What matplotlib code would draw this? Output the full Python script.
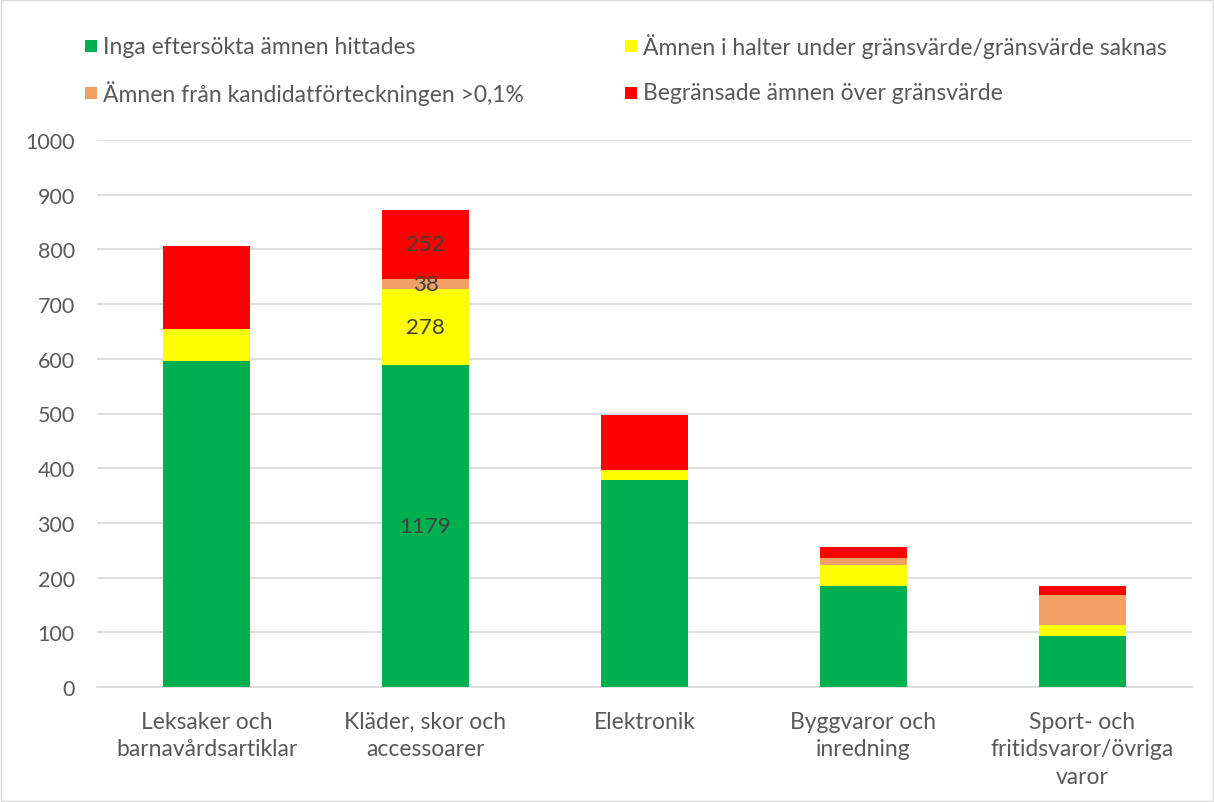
import matplotlib
matplotlib.use("Agg")
import matplotlib.pyplot as plt
from matplotlib.patches import Rectangle
import numpy as np

categories = ["Leksaker och\nbarnavårdsartiklar", "Kläder, skor och\naccessoarer",
              "Elektronik", "Byggvaror och\ninredning", "Sport- och\nfritidsvaror/övriga\nvaror"]
series_names = ["Inga eftersökta ämnen hittades",
                "Ämnen i halter under gränsvärde/gränsvärde saknas",
                "Ämnen från kandidatförteckningen >0,1%",
                "Begränsade ämnen över gränsvärde"]
green = [596, 589, 378, 185, 93]
yellow = [58, 139, 19, 38, 20]
orange = [0, 18, 0, 13, 55]
red = [152, 126, 100, 20, 17]
colors = ["#00b050", "#ffff00", "#f0a066", "#ff0000"]
# data labels shown on second bar
label_cat = 1
label_texts = ["1179", "278", "38", "252"]
yticks = list(range(0, 1001, 100))

plt.rcParams['font.family'] = ['Lato', 'DejaVu Sans']
txt = "#595959"
fs_txt = 16.5
fs_num = 15
W, H = 1214, 803

fig = plt.figure(figsize=(12.14, 8.03), dpi=100)
ax = fig.add_axes([97/W, (H-688)/H, (1192-97)/W, (688-141)/H])

x = np.arange(len(categories))
bottom = np.zeros(len(categories))
series = [green, yellow, orange, red]
for vals, c, name, lab in zip(series, colors, series_names, label_texts):
    v = np.array(vals, dtype=float)
    ax.bar(x, v, 0.4, bottom=bottom, color=c, label=name, zorder=3)
    ax.text(x[label_cat], bottom[label_cat] + v[label_cat] / 2, lab,
            ha="center", va="center", fontsize=fs_num + 1, color="#404040", zorder=4)
    bottom += v

ax.set_xlim(-0.5, len(categories) - 0.5)
ax.set_ylim(0, 1000)
ax.set_yticks(yticks)
ax.set_yticklabels([str(t) for t in yticks], fontsize=fs_num + 0.5, color=txt)
ax.set_xticks(x)
ax.set_xticklabels(categories, fontsize=fs_txt, color=txt, linespacing=1.4)
ax.tick_params(axis="y", length=0, pad=16)
ax.tick_params(axis="x", length=0, pad=17)
ax.grid(axis="y", color="#d9d9d9", linewidth=1.2, zorder=0)
for s in ["top", "right", "left"]:
    ax.spines[s].set_visible(False)
ax.spines["bottom"].set_color("#d9d9d9")
ax.spines["bottom"].set_linewidth(1.2)

# legend: 2 rows x 2 columns, row-wise order
col_x = [85, 625]
row_y = [47, 94]
sq = 12
for i, (c, name) in enumerate(zip(colors, series_names)):
    r, k = divmod(i, 2)
    x0, y0 = col_x[k], row_y[r]
    fig.patches.append(Rectangle((x0 / W, 1 - (y0 + sq / 2) / H), sq / W, sq / H,
                                 transform=fig.transFigure, facecolor=c, edgecolor="none"))
    fig.text((x0 + sq + 6) / W, 1 - y0 / H, name, fontsize=fs_txt, color=txt,
             ha="left", va="center")

fig.patches.append(Rectangle((0.001, 0.001), 0.998, 0.998, transform=fig.transFigure,
                             fill=False, edgecolor="#d9d9d9", linewidth=1))
fig.savefig("out.png", dpi=100)
